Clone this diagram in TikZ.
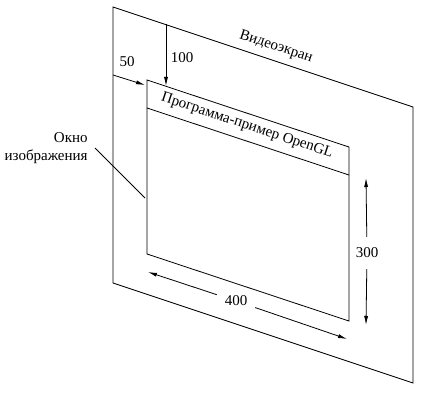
\documentclass[tikz,border=0pt]{standalone}
\usepackage{fontspec}
\setmainfont{Liberation Serif}
\usetikzlibrary{arrows.meta}

\begin{document}
\begin{tikzpicture}[x=1pt, y=-1pt, every node/.style={font=\fontsize{15}{18}\selectfont, inner sep=1pt}, every path/.style={line width=0.8pt}, dim/.style={-{Latex[length=9pt,width=4pt]}}]

    \useasboundingbox (0,0) rectangle (428,401);

    % Screen corners
    \coordinate (stl) at (113,7);
    \coordinate (str) at (413,107);
    \coordinate (sbr) at (413,383);
    \coordinate (sbl) at (113,283);

    % Window corners
    \coordinate (wtl) at (147,80);
    \coordinate (wtr) at (349,147);
    \coordinate (wbr) at (349,321);
    \coordinate (wbl) at (147,254);
    \coordinate (ttl) at (147,108);
    \coordinate (ttr) at (349,175);

    % Frames
    \draw (stl) -- (str) -- (sbr) -- (sbl) -- cycle;
    \draw (wtl) -- (wtr) -- (wbr) -- (wbl) -- cycle;
    \draw (ttl) -- (ttr);

    % Labels
    \node[rotate=-18.43] (screen) at (276,47) {Видеоэкран};
    \node[rotate=-18.43] (title) at (247,126) {Программа-пример OpenGL};
    \node[align=right, anchor=east] (window) at (89,148) {Окно\\изображения};
    \coordinate (wpt) at (145,198);
    \draw ([xshift=6pt]window.east) -- (wpt);

    % Offsets
    \coordinate (t100) at (166,24);
    \coordinate (h100) at (166,86);
    \draw[dim] (t100) -- (h100);
    \node (l100) at (182,58) {100};

    \coordinate (t50) at (113,75);
    \coordinate (h50) at (145,85);
    \draw[dim] (t50) -- (h50);
    \node (l50) at (127,62) {50};

    % Sizes
    \node[outer sep=7pt] (l400) at (236,301) {400};
    \coordinate (a400l) at (148,272);
    \coordinate (a400r) at (347,339);
    \draw[dim] (l400) -- (a400l);
    \draw[dim] (l400) -- (a400r);

    \node[outer sep=10pt] (l300) at (367,253) {300};
    \coordinate (a300t) at (366,178);
    \coordinate (a300b) at (366,325);
    \draw[dim] (l300) -- (a300t);
    \draw[dim] (l300) -- (a300b);

\end{tikzpicture}
\end{document}
